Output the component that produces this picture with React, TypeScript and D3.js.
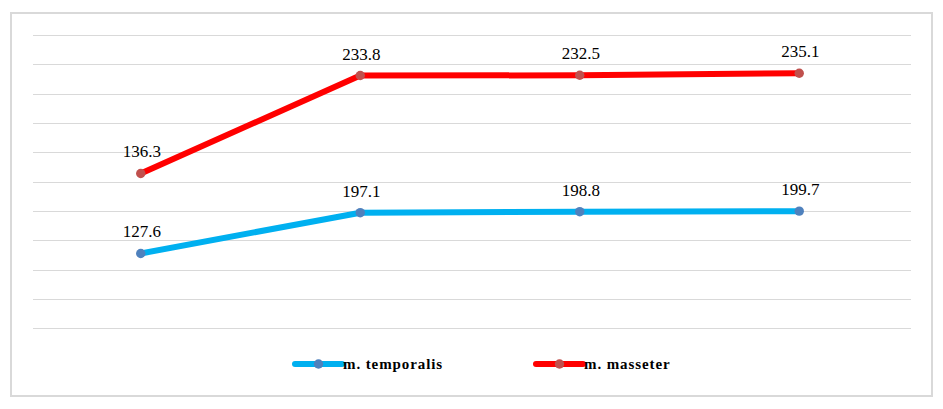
import React, { useEffect, useRef } from 'react';
import * as d3 from 'd3';

// categories have no visible labels in the chart
const categories = ['1', '2', '3', '4'];
const temporalis = [127.6, 197.1, 198.8, 199.7];
const masseter = [136.3, 233.8, 232.5, 235.1];
const seriesNames = ['m. temporalis', 'm. masseter'];
const yTicks = [0, 50, 100, 150, 200, 250, 300, 350, 400, 450, 500];

const W = 943;
const H = 409;

export default function App() {
	const ref = useRef<SVGSVGElement | null>(null);

	useEffect(() => {
		const svg = d3.select(ref.current);
		svg.selectAll('*').remove();

		const lineColors = ['#00B0F0', '#FF0000'];
		const markerColors = ['#4F81BD', '#C0504D'];

		// outer frame
		svg.append('rect')
			.attr('x', 11)
			.attr('y', 13)
			.attr('width', 921)
			.attr('height', 383)
			.attr('fill', '#fff')
			.attr('stroke', '#d9d9d9')
			.attr('stroke-width', 2);

		const x = d3.scaleBand().domain(categories).range([31, 909]);
		const y = d3.scaleLinear().domain([0, 500]).range([328.3, 35]);

		// gridlines
		svg.append('g')
			.selectAll('line')
			.data(yTicks)
			.enter()
			.append('line')
			.attr('x1', 33)
			.attr('x2', 911)
			.attr('y1', d => Math.round(y(d)) + 0.5)
			.attr('y2', d => Math.round(y(d)) + 0.5)
			.attr('stroke', '#d9d9d9')
			.attr('stroke-width', 1);

		// stacked line chart (Excel style)
		const rows = categories.map((c, i) => ({ cat: c, t: temporalis[i], m: masseter[i] }));
		const stacked = d3.stack<any>().keys(['t', 'm'])(rows);
		const raw = [temporalis, masseter];

		const cx = (c: string) => (x(c) as number) + x.bandwidth() / 2;

		const line = d3
			.line<any>()
			.x(d => cx(d.data.cat))
			.y(d => y(d[1]));

		stacked.forEach((s, si) => {
			svg.append('path')
				.datum(s)
				.attr('d', line)
				.attr('fill', 'none')
				.attr('stroke', lineColors[si])
				.attr('stroke-width', 6)
				.attr('stroke-linejoin', 'round');
		});

		stacked.forEach((s, si) => {
			const g = svg.append('g');
			g.selectAll('circle')
				.data(s)
				.enter()
				.append('circle')
				.attr('cx', d => cx(d.data.cat))
				.attr('cy', d => y(d[1]))
				.attr('r', 4.7)
				.attr('fill', markerColors[si]);
			g.selectAll('text')
				.data(s)
				.enter()
				.append('text')
				.attr('x', d => cx(d.data.cat) + 1)
				.attr('y', d => y(d[1]) - 16)
				.attr('text-anchor', 'middle')
				.style('font-family', '"Liberation Serif", "Times New Roman", serif')
				.style('font-size', '17px')
				.attr('fill', '#000')
				.text((d, i) => raw[si][i].toFixed(1));
		});

		// legend
		const legendX = [295, 536];
		seriesNames.forEach((name, i) => {
			const g = svg.append('g').attr('transform', `translate(${legendX[i]},364)`);
			g.append('line')
				.attr('x1', 0)
				.attr('x2', 47)
				.attr('y1', 0)
				.attr('y2', 0)
				.attr('stroke', lineColors[i])
				.attr('stroke-width', 6)
				.attr('stroke-linecap', 'round');
			g.append('circle').attr('cx', 23.5).attr('cy', 0).attr('r', 4.7).attr('fill', markerColors[i]);
			g.append('text')
				.attr('x', 48)
				.attr('y', 5)
				.style('font-family', '"Liberation Serif", "Times New Roman", serif')
				.style('font-size', '15px')
				.style('font-weight', 'bold')
				.style('letter-spacing', '0.9px')
				.attr('fill', '#000')
				.text(name);
		});
	}, []);

	return (
		<div style={{ position: 'absolute', left: 0, top: 0 }}>
			<svg ref={ref} width={W} height={H} style={{ display: 'block', background: '#fff' }} />
		</div>
	);
}
